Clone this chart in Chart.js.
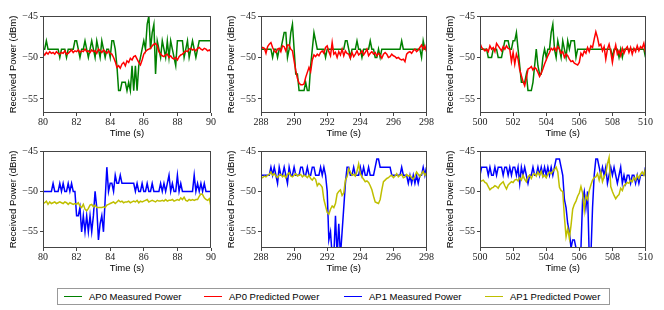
<!DOCTYPE html>
<html><head><meta charset="utf-8">
<script src="https://cdn.jsdelivr.net/npm/chart.js@4/dist/chart.umd.min.js"></script>
<style>
html,body{margin:0;padding:0;background:#fff;width:664px;height:310px;overflow:hidden;position:relative}
canvas.p{position:absolute}
#legend{position:absolute;left:57px;top:288px;width:553px;height:17px;border:1px solid #999;box-sizing:border-box;font:9.5px "Liberation Sans",Arial,sans-serif;color:#000}
.item{position:absolute;top:0;height:15px;line-height:15px;white-space:nowrap}
.sw{position:absolute;top:7px;width:18px;height:0;border-top:1.4px solid}
.tx{position:absolute;left:25px;top:0}
</style></head><body>
<canvas class="p" id="c0"></canvas><canvas class="p" id="c1"></canvas><canvas class="p" id="c2"></canvas>
<canvas class="p" id="c3"></canvas><canvas class="p" id="c4"></canvas><canvas class="p" id="c5"></canvas>
<div id="legend"></div>
<script>
// ---- Data (sampled every 0.1 s) ----
const seriesNames = ['AP0 Measured Power','AP0 Predicted Power','AP1 Measured Power','AP1 Predicted Power'];
const seriesColors = ['#008000','#ff0000','#0000ff','#bfbf00'];
const panelStart = [80, 288, 500, 80, 288, 500];
const sampleStep = 0.1;
const xTicksA = [80,82,84,86,88,90];
const xTicksB = [288,290,292,294,296,298];
const xTicksC = [500,502,504,506,508,510];
const yTicks = [-45,-50,-55];

const ap0Meas80 = [-49,-49,-48,-49,-49,-49,-49,-49,-49,-49,
 -50,-49,-49,-49,-50,-49,-49,-49,-49,-48,
 -48,-49,-50,-49,-49,-48,-49,-50,-49,-48,
 -49,-50,-48,-49,-50,-48,-49,-50,-49,-49,
 -50,-48,-48,-49,-51,-54,-54,-53,-53,-53,
 -54,-53,-54,-51,-54,-51,-54,-51,-50,-49,
 -48,-49,-46,-45,-49,-47,-46,-52,-48,-49,
 -50,-48,-49,-50,-48,-50,-48,-49,-50,-51,
 -48,-48,-48,-48,-50,-49,-48,-50,-49,-48,
 -49,-50,-49,-48,-48,-48,-48,-48,-48,-48,-48];
const ap0Pred80 = [-49.5,-49.7,-49.4,-49.6,-49.3,-49.5,-49.4,-49.6,-49.3,-49.5,
 -49.6,-49.4,-49.5,-49.2,-49.6,-49.5,-49.3,-49.1,-49.4,-49.2,
 -49.3,-49.1,-49.4,-49.2,-49.3,-49.0,-49.3,-49.2,-49.4,-49.1,
 -49.3,-49.2,-49.5,-49.0,-49.2,-49.4,-49.1,-49.3,-49.5,-49.2,
 -49.5,-49.6,-50.0,-50.5,-51.2,-51.0,-51.3,-50.8,-50.6,-51.0,
 -50.4,-50.6,-50.1,-50.3,-49.9,-49.8,-50.2,-50.6,-50.9,-50.3,
 -49.6,-49.3,-49.1,-49.0,-48.9,-48.6,-48.4,-48.3,-48.6,-49.3,
 -49.6,-49.8,-49.9,-49.7,-49.6,-50.0,-49.8,-50.1,-50.2,-50.0,
 -50.3,-49.9,-49.7,-49.6,-49.4,-49.2,-49.3,-49.0,-48.9,-49.1,
 -49.0,-49.2,-48.9,-48.8,-49.0,-49.1,-48.9,-49.0,-49.2,-49.1,-49.3];
const ap0Meas288 = [-49,-49,-49,-49,-49,-49,-49,-50,-49,-49,
 -50,-49,-49,-48,-47,-47,-50,-49,-47,-46,
 -49,-52,-52,-54,-54,-54,-54,-53,-54,-54,
 -51,-49,-47,-48,-49,-49,-49,-49,-49,-50,
 -49,-49,-49,-49,-49,-49,-49,-49,-49,-49,
 -49,-48,-48,-49,-50,-49,-49,-49,-48,-49,
 -49,-50,-49,-49,-49,-49,-48,-49,-49,-50,
 -50,-49,-50,-49,-49,-49,-49,-49,-49,-49,
 -49,-49,-49,-49,-49,-48,-49,-49,-49,-49,
 -49,-49,-49,-49,-49,-49,-49,-50,-48,-49,-49];
const ap0Pred288 = [-49.0,-48.8,-48.9,-49.5,-48.7,-48.4,-48.2,-48.8,-49.2,-49.4,
 -49.0,-48.9,-49.3,-48.6,-48.7,-49.2,-48.5,-48.5,-49.0,-49.2,
 -50.4,-51.6,-52.5,-53.1,-53.3,-53.3,-53.2,-52.4,-51.8,-51.2,
 -51.7,-50.3,-49.7,-49.9,-49.6,-49.8,-49.4,-49.2,-49.5,-48.8,
 -48.6,-49.3,-49.8,-48.2,-49.6,-49.4,-50.0,-49.3,-49.7,-49.0,
 -49.8,-49.2,-49.5,-49.6,-50.1,-49.4,-49.9,-49.6,-49.2,-49.7,
 -49.5,-49.2,-49.7,-49.4,-49.0,-49.8,-49.5,-49.3,-49.6,-49.4,
 -49.8,-49.5,-49.7,-50.1,-49.6,-49.4,-49.6,-50.0,-49.9,-49.6,
 -49.8,-49.9,-50.1,-50.0,-50.2,-50.3,-50.2,-50.5,-49.6,-49.4,
 -49.3,-49.5,-49.2,-49.0,-49.3,-49.1,-48.8,-48.5,-49.0,-48.6,-49.3];
const ap0Meas500 = [-49,-49,-49,-49,-49,-50,-50,-50,-49,-49,
 -49,-50,-50,-50,-49,-48,-48,-48,-49,-49,
 -48,-48,-47,-49,-51,-53,-53,-53,-52,-54,
 -54,-54,-53,-51,-49,-51,-52,-52,-50,-49,
 -50,-49,-49,-47,-46,-49,-50,-48,-49,-50,
 -48,-49,-50,-48,-49,-48,-48,-48,-50,-49,
 -49,-49,-49,-49,-49,-49,-49,-49,-49,-49,
 -49,-49,-49,-49,-49,-49,-49,-49,-49,-49,
 -50,-49,-49,-49,-50,-49,-50,-49,-49,-49,
 -49,-49,-49,-49,-49,-49,-49,-49,-49,-49,-50];
const ap0Pred500 = [-48.3,-48.8,-49.0,-49.2,-49.0,-49.3,-48.6,-49.0,-48.8,-49.3,
 -48.3,-48.6,-48.9,-49.2,-48.7,-49.0,-48.6,-48.9,-49.0,-50.5,
 -49.4,-50.8,-49.6,-50.2,-51.5,-52.2,-52.9,-53.4,-52.5,-51.4,
 -51.3,-51.1,-51.5,-51.2,-51.4,-51.8,-52.3,-51.9,-51.4,-50.8,
 -50.3,-49.8,-49.4,-48.9,-49.1,-48.8,-49.2,-48.7,-49.0,-49.5,
 -49.3,-50.0,-49.6,-49.8,-50.2,-50.5,-50.4,-50.7,-50.8,-50.9,
 -50.6,-49.5,-49.8,-49.2,-49.5,-48.8,-49.3,-48.6,-48.8,-47.8,
 -46.9,-47.6,-48.6,-48.4,-49.2,-48.7,-50.2,-49.0,-48.4,-49.3,
 -50.6,-49.4,-48.5,-49.6,-49.2,-49.8,-48.9,-49.5,-49.0,-48.7,
 -49.4,-48.8,-49.6,-48.9,-49.3,-48.6,-49.2,-48.7,-48.9,-48.3,-49.4];
const ap1Meas80 = [-50,-50,-50,-50,-50,-50,-49,-50,-50,-50,
 -49,-50,-49,-50,-50,-49,-50,-49,-50,-50,
 -53,-53,-52,-55,-53,-55,-53,-55,-53,-55,
 -53,-50,-52,-56,-54,-53,-55,-51,-47,-50,
 -49,-49,-50,-48,-49,-49,-48,-49,-49,-49,
 -49,-49,-49,-49,-49,-50,-49,-50,-50,-49,
 -50,-50,-49,-50,-50,-49,-50,-50,-50,-50,
 -49,-50,-49,-50,-49,-48,-50,-49,-50,-50,
 -48,-50,-49,-50,-50,-50,-50,-50,-50,-50,
 -48,-50,-49,-50,-49,-50,-49,-50,-50,-50,-50];
const ap1Pred80 = [-51.5,-51.4,-51.2,-51.6,-51.3,-51.5,-51.4,-51.3,-51.5,-51.4,
 -51.3,-51.4,-51.5,-51.3,-51.4,-51.6,-51.4,-51.5,-51.6,-51.5,
 -51.6,-51.4,-51.8,-52.0,-51.6,-52.2,-52.4,-52.1,-51.7,-51.6,
 -51.9,-51.7,-52.0,-52.0,-52.0,-52.0,-51.9,-52.0,-51.7,-51.6,
 -51.5,-51.4,-51.3,-51.5,-51.3,-51.1,-51.3,-51.2,-51.4,-51.3,
 -51.3,-51.2,-51.4,-51.3,-51.2,-51.3,-51.1,-51.4,-51.2,-51.3,
 -51.2,-51.1,-51.0,-51.3,-51.2,-51.1,-51.2,-51.3,-51.1,-51.2,
 -51.2,-51.1,-51.2,-51.0,-51.2,-51.1,-51.1,-51.0,-51.2,-51.1,
 -51.0,-51.1,-50.8,-51.0,-50.7,-51.1,-51.2,-51.0,-51.1,-51.0,
 -51.1,-51.0,-51.0,-50.6,-50.3,-50.4,-50.8,-51.0,-51.1,-50.9,-51.9];
const ap1Meas288 = [-48,-48,-48,-48,-48,-48,-47,-48,-47,-48,
 -49,-47,-48,-48,-47,-48,-49,-47,-48,-48,
 -47,-48,-48,-48,-47,-47,-48,-48,-47,-48,
 -48,-47,-47,-48,-48,-48,-47,-48,-47,-48,
 -50,-56,-55,-58,-58,-53,-58,-54,-58,-55,
 -52,-49,-47,-47,-48,-48,-47,-48,-48,-48,
 -47,-48,-47,-48,-48,-47,-48,-48,-48,-47,
 -46,-46,-47,-47,-47,-47,-47,-47,-47,-48,
 -48,-48,-48,-48,-48,-47,-48,-48,-48,-49,
 -48,-49,-48,-49,-48,-49,-48,-48,-47,-48,-47];
const ap1Pred288 = [-48.2,-48.3,-48.1,-48.2,-48.0,-47.9,-47.6,-48.0,-47.8,-48.1,
 -48.3,-48.0,-47.9,-48.2,-48.0,-48.3,-47.9,-47.7,-48.1,-48.2,
 -48.0,-47.8,-48.1,-48.0,-47.9,-48.2,-48.0,-48.1,-48.3,-48.0,
 -48.4,-48.6,-48.3,-48.5,-49.3,-49.0,-49.2,-49.5,-51.0,-51.8,
 -52.6,-52.8,-52.2,-51.8,-52.0,-51.5,-50.3,-50.0,-49.8,-50.5,
 -50.2,-48.6,-48.2,-47.2,-47.6,-48.0,-47.9,-48.1,-47.5,-46.6,
 -47.8,-48.2,-48.5,-48.8,-48.7,-48.9,-49.3,-49.8,-50.6,-51.3,
 -51.4,-51.5,-51.0,-49.8,-48.8,-48.6,-48.4,-48.3,-48.1,-48.0,
 -48.3,-48.1,-47.8,-48.2,-48.0,-47.9,-48.3,-48.2,-47.9,-48.1,
 -48.0,-48.3,-48.5,-48.1,-47.6,-47.9,-48.2,-47.8,-47.5,-48.0,-47.7];
const ap1Meas500 = [-48,-47,-47,-47,-47,-48,-47,-48,-48,-47,
 -48,-47,-47,-47,-48,-47,-47,-48,-47,-48,
 -47,-47,-48,-47,-49,-47,-48,-47,-48,-49,
 -48,-48,-47,-48,-48,-47,-48,-47,-48,-47,
 -48,-47,-48,-47,-48,-47,-46,-46,-46,-47,
 -48,-51,-52,-54,-55,-57,-56,-56,-57,-58,
 -58,-57,-51,-50,-52,-50,-58,-58,-52,-48,
 -46,-46,-47,-48,-47,-48,-47,-49,-48,-47,
 -48,-47,-48,-49,-48,-47,-49,-48,-49,-48,
 -48,-49,-48,-48,-49,-48,-49,-48,-48,-48,-47];
const ap1Pred500 = [-48.8,-48.7,-48.6,-48.9,-49.0,-49.4,-49.8,-49.6,-49.5,-49.3,
 -49.4,-49.6,-49.2,-49.0,-48.8,-49.3,-49.7,-49.2,-49.0,-48.8,
 -48.9,-48.6,-48.5,-48.7,-48.3,-48.6,-48.0,-48.5,-48.8,-48.2,
 -48.0,-48.4,-47.9,-47.8,-48.1,-47.6,-48.0,-47.5,-48.2,-48.0,
 -48.3,-47.9,-47.6,-47.8,-47.5,-47.3,-47.0,-47.6,-49.5,-49.9,
 -50.0,-53.2,-55.6,-54.6,-55.8,-54.2,-52.2,-51.6,-51.2,-50.6,
 -50.2,-49.4,-50.2,-52.4,-50.6,-51.0,-49.9,-49.2,-48.6,-48.3,
 -48.2,-47.8,-48.6,-47.6,-48.8,-48.2,-47.8,-46.6,-45.8,-49.4,
 -50.0,-50.5,-50.9,-50.6,-50.4,-49.6,-49.9,-49.3,-49.1,-48.9,
 -49.0,-48.6,-48.8,-48.3,-48.6,-48.0,-48.4,-47.9,-47.6,-48.0,-47.2];

// ---- Panels ----
const panels = [
  {id:'c0', col:0, row:0, xt:xTicksA, s:[[ap0Meas80,0],[ap0Pred80,1]]},
  {id:'c1', col:1, row:0, xt:xTicksB, s:[[ap0Meas288,0],[ap0Pred288,1]]},
  {id:'c2', col:2, row:0, xt:xTicksC, s:[[ap0Meas500,0],[ap0Pred500,1]]},
  {id:'c3', col:0, row:1, xt:xTicksA, s:[[ap1Meas80,2],[ap1Pred80,3]]},
  {id:'c4', col:1, row:1, xt:xTicksB, s:[[ap1Meas288,2],[ap1Pred288,3]]},
  {id:'c5', col:2, row:1, xt:xTicksC, s:[[ap1Meas500,2],[ap1Pred500,3]]}
];
const plotLeft = [43, 261, 480], plotRight = [211, 428, 647];
const plotTop = [14, 149], plotH = 99;
const yMinRow = [-56.7, -57];
const Y_W = 43, X_H = 30, PAD_T = 6, PAD_R = 6;

const frame = {
  id:'frame',
  afterDraw(chart){
    const a = chart.chartArea, c = chart.ctx;
    c.save(); c.strokeStyle = '#444'; c.lineWidth = 1;
    c.strokeRect(Math.round(a.left)+0.5, Math.round(a.top)+0.5, Math.round(a.right-a.left)-1, Math.round(a.bottom-a.top)-1);
    c.restore();
  }
};
const minus = v => String(v).replace('-', '\u2212');

panels.forEach((p, k) => {
  const cv = document.getElementById(p.id);
  const w = plotRight[p.col] - plotLeft[p.col] + Y_W + PAD_R;
  const h = PAD_T + plotH + X_H;
  cv.width = w; cv.height = h;
  cv.style.width = w + 'px'; cv.style.height = h + 'px';
  cv.style.left = (plotLeft[p.col] - Y_W) + 'px';
  cv.style.top = (plotTop[p.row] - PAD_T) + 'px';
  const t0 = panelStart[k];
  const datasets = p.s.map(([vals, si], j) => ({
    label: seriesNames[si],
    data: vals.map((v, i) => ({x: Math.round((t0 + i*sampleStep)*10)/10, y: v})),
    borderColor: seriesColors[si], backgroundColor: seriesColors[si],
    borderWidth: 1.5, pointRadius: 0, tension: 0, fill: false,
    order: 1 - j
  }));
  new Chart(cv, {
    type: 'line',
    data: {datasets},
    options: {
      responsive: false, animation: false, devicePixelRatio: 1,
      layout: {padding: {top: PAD_T, right: PAD_R, left: 0, bottom: 0}},
      plugins: {legend: {display: false}, tooltip: {enabled: false}},
      scales: {
        x: {
          type: 'linear', min: p.xt[0], max: p.xt[p.xt.length-1],
          afterBuildTicks: s => { s.ticks = p.xt.map(v => ({value: v})); },
          afterFit: s => { s.height = X_H; },
          grid: {drawOnChartArea: false, drawTicks: true, tickLength: 3, color: '#444'},
          border: {display: false},
          ticks: {font: {family: '"Liberation Serif", serif', size: 10}, color: '#222', padding: 0, maxRotation: 0, autoSkip: false},
          title: {display: true, text: 'Time (s)', font: {family: '"Liberation Sans", Arial, sans-serif', size: 9.5}, color: '#000', padding: {top: 0, bottom: 4}}
        },
        y: {
          type: 'linear', min: yMinRow[p.row], max: -45,
          afterBuildTicks: s => { s.ticks = yTicks.map(v => ({value: v})); },
          afterFit: s => { s.width = Y_W; },
          grid: {drawOnChartArea: false, drawTicks: true, tickLength: 3, color: '#444'},
          border: {display: false},
          ticks: {font: {family: '"Liberation Serif", serif', size: 10}, color: '#222', padding: 2, callback: v => minus(v)},
          title: {display: true, text: 'Received Power (dBm)', font: {family: '"Liberation Sans", Arial, sans-serif', size: 9.5}, color: '#000', padding: {top: 8, bottom: 0}}
        }
      }
    },
    plugins: [frame]
  });
});

// ---- Legend ----
const legendLeft = [6, 146, 286, 427];
const lg = document.getElementById('legend');
seriesNames.forEach((n, i) => {
  const d = document.createElement('div');
  d.className = 'item'; d.style.left = legendLeft[i] + 'px';
  d.innerHTML = '<span class="sw" style="border-color:' + seriesColors[i] + '"></span><span class="tx"></span>';
  d.querySelector('.tx').textContent = n;
  lg.appendChild(d);
});
</script>
</body></html>
